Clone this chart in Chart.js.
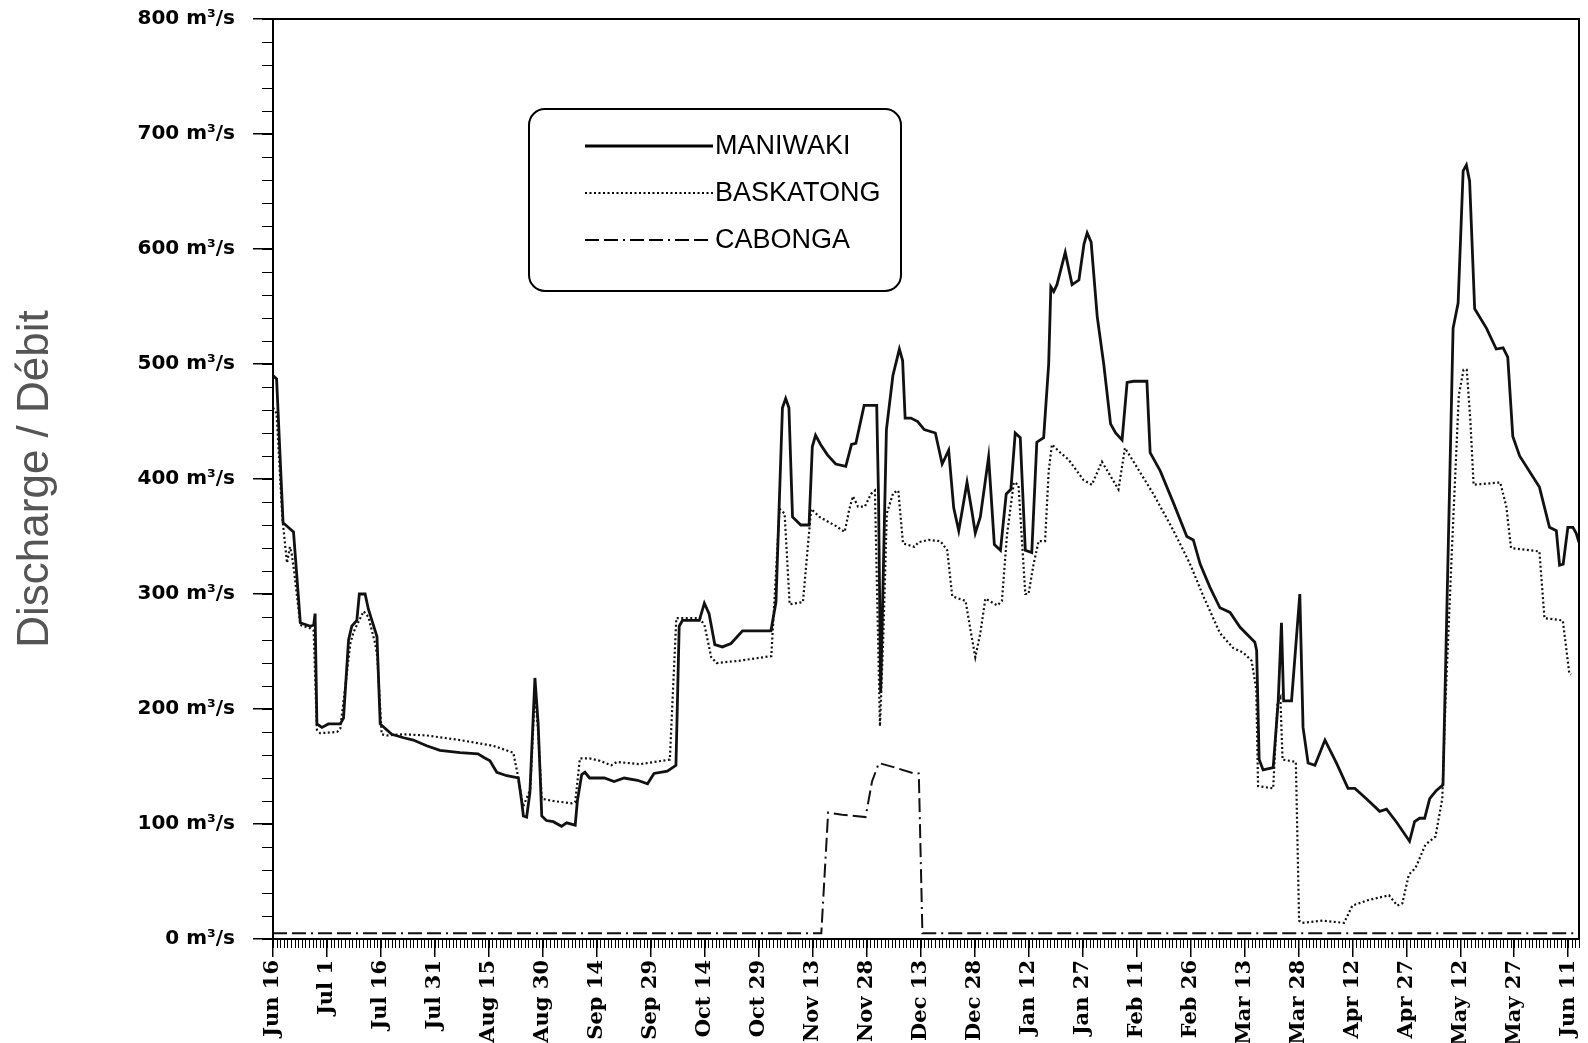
<!DOCTYPE html>
<html>
<head>
<meta charset="utf-8">
<title>Discharge / Débit</title>
<script src="https://cdn.jsdelivr.net/npm/chart.js@4.4.0/dist/chart.umd.min.js"></script>
<style>
    html, body { margin: 0; padding: 0; background: #fff; }
</style>
</head>
<body>
<canvas id="flowChart" width="1588" height="1043"></canvas>
<script>
// day 0 = Jun 16, one tick label every 15 days
const tickLabels = ["Jun 16", "Jul 1", "Jul 16", "Jul 31", "Aug 15", "Aug 30",
    "Sep 14", "Sep 29", "Oct 14", "Oct 29", "Nov 13", "Nov 28", "Dec 13",
    "Dec 28", "Jan 12", "Jan 27", "Feb 11", "Feb 26", "Mar 13", "Mar 28",
    "Apr 12", "Apr 27", "May 12", "May 27", "Jun 11"];

const maniwakiDays = [0, 1, 2.8, 5.7, 7.6, 10.4, 11.3, 11.7, 12.2, 13.6, 15.4, 18.7, 19.6, 21, 21.9, 23.3, 24, 25.6, 26.5, 27.9, 28.9,
    29.8, 31.2, 33, 36.3, 39, 42.7, 46.4, 52, 57, 58.5, 60.3, 62.2, 65, 68.2, 69.1, 69.6, 70.5, 71.4, 72.8, 73.7, 74.7, 76, 77.9,
    80.2, 81.6, 84, 84.6, 85.8, 86.7, 88, 92.1, 94.8, 97.6, 101.3, 104.1, 105.9, 109.6, 112, 112.9, 113.8, 118.5, 119.9, 121.2,
    122.8, 124.9, 127.3, 130.5, 138.4, 139.8, 141.6, 142.5, 143.4, 144.4, 146.7, 149, 149.9, 150.8, 152.2, 154.1, 156.4, 159.2,
    160.8, 162, 164.3, 167.8, 168.3, 168.9, 170.5, 172.3, 174.1, 175, 175.7, 177.3, 179.2, 181, 184.1, 186, 187.8, 189.2, 190.6,
    192.9, 194.3, 195.2, 196.6, 198.9, 200.5, 202.2, 203.8, 205.1, 206.3, 207.7, 209.1, 210.9, 212.3, 214.2, 215.6, 216.2, 217,
    217.9, 220.2, 222.1, 224, 225.4, 226.3, 227.4, 229.1, 230.9, 232.8, 234.2, 236, 237.4, 239.2, 242.9, 243.8, 246.6, 250.3,
    254, 255.8, 257.7, 260.4, 263.2, 266, 268.8, 272.9, 273.4, 274.1, 275.2, 278, 279.4, 280.3, 280.9, 283.1, 285.4, 286.3,
    287.7, 289.6, 292.4, 295.6, 298.8, 300.7, 303.9, 307.6, 309.5, 312.2, 315.9, 317.3, 318.7, 320.1, 321.5, 323.3, 325.2,
    328, 329.4, 330.8, 331.7, 332.6, 334, 337.3, 340, 341.9, 343.2, 344.6, 346.5, 352, 354.8, 356.7, 357.6, 358.6, 359.9,
    361.3, 362.2, 363];
const maniwakiFlow = [490, 487, 362, 354, 275, 272, 273, 283, 187, 184, 187, 187, 192, 260, 272, 277, 300, 300, 287, 273, 263,
    187, 183, 178, 175, 173, 168, 164, 162, 161, 158, 155, 145, 142, 140, 120, 107, 106, 127, 227, 187, 107, 103, 102,
    98, 101, 99, 120, 143, 145, 140, 140, 137, 140, 138, 135, 144, 146, 151, 272, 277, 277, 292, 283,
    256, 254, 257, 268, 268, 293, 462, 470, 462, 367, 360, 360, 428, 438, 430, 421, 413, 411,
    430, 431, 464, 464, 385, 214, 443, 490, 513, 503, 453, 453, 450, 443, 440, 413, 425, 375, 355,
    397, 371, 353, 367, 419, 343, 338, 387, 391, 440, 436, 338, 336, 432, 436, 500, 567, 563,
    569, 597, 569, 573, 604, 614, 606, 541, 500, 448, 440, 434, 484, 485, 485, 423, 407, 379,
    350, 347, 326, 306, 288, 284, 271, 258, 251, 156, 147, 149, 207, 275, 207, 207, 300, 184,
    153, 151, 173, 153, 131, 131, 122, 111, 113, 102, 85, 102, 105, 105, 122, 129, 134,
    531, 553, 668, 673, 659, 548, 531, 513, 514, 506, 437, 420, 393, 358, 355, 325, 326, 358,
    358, 353, 345];

const baskatongDays = [0, 1, 2.6, 3.9, 4.7, 5.2, 5.9, 7.6, 10.4, 11.3, 12.2, 13.1, 17.8, 18.7, 21.5, 22.4, 24.1, 25.2, 26.5,
    28.4, 29, 30.2, 31.6, 36.3, 42.7, 52, 61.2, 66.8, 68, 69.5, 71.5, 72.8, 73.7, 74.7, 77.9, 83, 84, 85.3, 88, 90.8, 94,
    95.6, 102, 110.3, 112.1, 118.7, 120, 121.8, 123.3, 129.7, 138.5, 140.8, 142.2, 143.6, 147.3, 148.7, 149.6, 151.9,
    156.5, 158.9, 160.2, 161.2, 162.6, 164.5, 166.2, 167.3, 168.7, 169.6, 170.6, 172.4, 173.8, 175.1, 178.3, 179.4,
    182.2, 185.5, 187.4, 188.8, 192.5, 193.8, 195.2, 196.6, 198, 201.3, 202.6, 204, 205.9, 207.2, 209.1, 210, 211.4,
    212.8, 214.6, 215.6, 216.5, 218.8, 221.1, 225.3, 227.6, 230.4, 232.7, 235, 236.8, 239.2, 244.7, 250.3, 254.9,
    258.6, 263.2, 266.9, 269.7, 272, 273.3, 273.8, 278, 279.2, 280, 280.6, 284.3, 285.2, 286.1, 291.7, 297.7, 300,
    304.6, 310.2, 312.5, 313.9, 315.7, 317.6, 320.3, 323.1, 325, 325.9, 327.7, 329.6, 330.9, 331.8, 332.8, 333.7,
    341.1, 342.8, 344.1, 352, 353.4, 358.5, 360.3, 360.8];
const baskatongFlow = [462, 457, 366, 327, 341, 335, 319, 273, 270, 268, 182, 179, 180, 183, 257, 267, 278, 285, 280,
    257, 245, 178, 177, 178, 177, 173, 168, 162, 143, 115, 130, 215, 180, 122, 120, 118, 119, 157, 157, 155, 151,
    154, 152, 156, 279, 279, 272, 245, 240, 242, 246, 374, 370, 291, 293, 343, 374, 367,
    359, 354, 374, 385, 376, 376, 387, 390, 185, 260, 370, 388, 390, 344, 341, 345,
    347, 346, 338, 298, 294, 270, 245, 266, 296, 290, 294, 351, 397, 395, 300, 300, 326,
    346, 346, 407, 430, 423, 417, 399, 395, 415, 403, 391, 427, 415, 387, 355, 326,
    298, 266, 253, 249, 242, 217, 133, 131, 205, 210, 156, 154, 16, 14, 16, 14, 29,
    34, 38, 29, 31, 56, 62, 82, 89, 122, 207, 340, 473, 495, 495, 451, 395,
    397, 376, 340, 337, 279, 277, 231, 230];

const cabongaDays = [0, 152.4, 154.3, 158.2, 164.7, 166.5, 168.4, 173, 178.1, 179.5, 180.5, 363];
const cabongaFlow = [5, 5, 110, 108, 106, 137, 153, 149, 144, 144, 5, 5];

const toPoints = (days, flow) => days.map((d, i) => ({ x: d, y: flow[i] }));

// -----------------------------
// DAILY / MINOR TICKS + FRAME
// -----------------------------
const minorTicks = {
    id: "minorTicks",
    afterDraw(chart) {
        const { ctx, chartArea, scales } = chart;
        const x = scales.x, y = scales.y;
        ctx.save();
        ctx.strokeStyle = "#000";
        ctx.lineWidth = 1;
        ctx.beginPath();
        for (let d = x.min; d <= x.max; d++) {
            const px = Math.round(x.getPixelForValue(d)) + 0.5;
            ctx.moveTo(px, chartArea.bottom);
            ctx.lineTo(px, chartArea.bottom + 9);
        }
        for (let v = y.min; v <= y.max; v += 20) {
            const py = Math.round(y.getPixelForValue(v)) + 0.5;
            ctx.moveTo(chartArea.left - 11, py);
            ctx.lineTo(chartArea.left, py);
        }
        ctx.stroke();

        ctx.lineWidth = 2;
        ctx.strokeRect(chartArea.left, chartArea.top,
            chartArea.right - chartArea.left, chartArea.bottom - chartArea.top);
        ctx.restore();
    }
};

// -----------------------------
// BOXED LEGEND
// -----------------------------
const boxLegend = {
    id: "boxLegend",
    afterDraw(chart) {
        const { ctx, chartArea } = chart;
        const bx = chartArea.left + 256;
        const by = chartArea.top + 90;
        ctx.save();
        ctx.strokeStyle = "#000";
        ctx.fillStyle = "#fff";
        ctx.lineWidth = 2;
        ctx.beginPath();
        ctx.roundRect(bx, by, 372, 182, 16);
        ctx.fill();
        ctx.stroke();

        ctx.font = '27px "Liberation Sans", Arial, sans-serif';
        ctx.textBaseline = "middle";
        chart.data.datasets.forEach((ds, i) => {
            const rowY = by + 37 + i * 47;
            ctx.setLineDash(ds.borderDash || []);
            ctx.lineWidth = ds.borderWidth;
            ctx.beginPath();
            ctx.moveTo(bx + 56, rowY);
            ctx.lineTo(bx + 184, rowY);
            ctx.stroke();
            ctx.setLineDash([]);
            ctx.fillStyle = "#000";
            ctx.fillText(ds.label, bx + 186, rowY + 1);
        });
        ctx.restore();
    }
};

new Chart(document.getElementById("flowChart"), {
    type: "line",
    data: {
        datasets: [
            {
                label: "MANIWAKI",
                data: toPoints(maniwakiDays, maniwakiFlow),
                borderColor: "#111",
                borderWidth: 2.8,
                borderDash: []
            },
            {
                label: "BASKATONG",
                data: toPoints(baskatongDays, baskatongFlow),
                borderColor: "#111",
                borderWidth: 2.2,
                borderDash: [2, 2.5]
            },
            {
                label: "CABONGA",
                data: toPoints(cabongaDays, cabongaFlow),
                borderColor: "#111",
                borderWidth: 2,
                borderDash: [14, 5, 14, 5, 2, 5]
            }
        ]
    },
    options: {
        responsive: false,
        animation: false,
        layout: { padding: { top: 19, right: 9, left: 0, bottom: 0 } },
        elements: { point: { radius: 0 }, line: { tension: 0 } },
        plugins: {
            legend: { display: false },
            tooltip: { enabled: false }
        },
        scales: {
            x: {
                type: "linear",
                min: 0,
                max: 363,
                afterFit(scale) {
                    scale.height = 104;
                    scale.paddingLeft = 0;
                    scale.paddingRight = 0;
                },
                border: { display: true, color: "#000", width: 2 },
                grid: { drawOnChartArea: false, tickLength: 18, color: "#000", lineWidth: 1.5 },
                ticks: {
                    stepSize: 15,
                    includeBounds: false,
                    autoSkip: false,
                    minRotation: 90,
                    maxRotation: 90,
                    padding: 3,
                    color: "#000",
                    font: { family: "DejaVu Serif", weight: "bold", size: 21 },
                    callback: (v) => tickLabels[v / 15] ?? ""
                }
            },
            y: {
                min: 0,
                max: 800,
                afterFit(scale) {
                    scale.width = 273;
                    scale.paddingTop = 0;
                    scale.paddingBottom = 0;
                },
                border: { display: true, color: "#000", width: 2 },
                grid: { drawOnChartArea: false, tickLength: 20, color: "#000", lineWidth: 1.5 },
                ticks: {
                    stepSize: 100,
                    padding: 18,
                    color: "#000",
                    font: { family: "DejaVu Sans", weight: "bold", size: 20 },
                    callback: (v) => v + " m³/s"
                },
                title: {
                    display: true,
                    text: "Discharge / Débit",
                    color: "#555",
                    font: { family: "Liberation Sans", size: 44 },
                    padding: { top: 9, bottom: 0 }
                }
            }
        }
    },
    plugins: [minorTicks, boxLegend]
});
</script>
</body>
</html>
